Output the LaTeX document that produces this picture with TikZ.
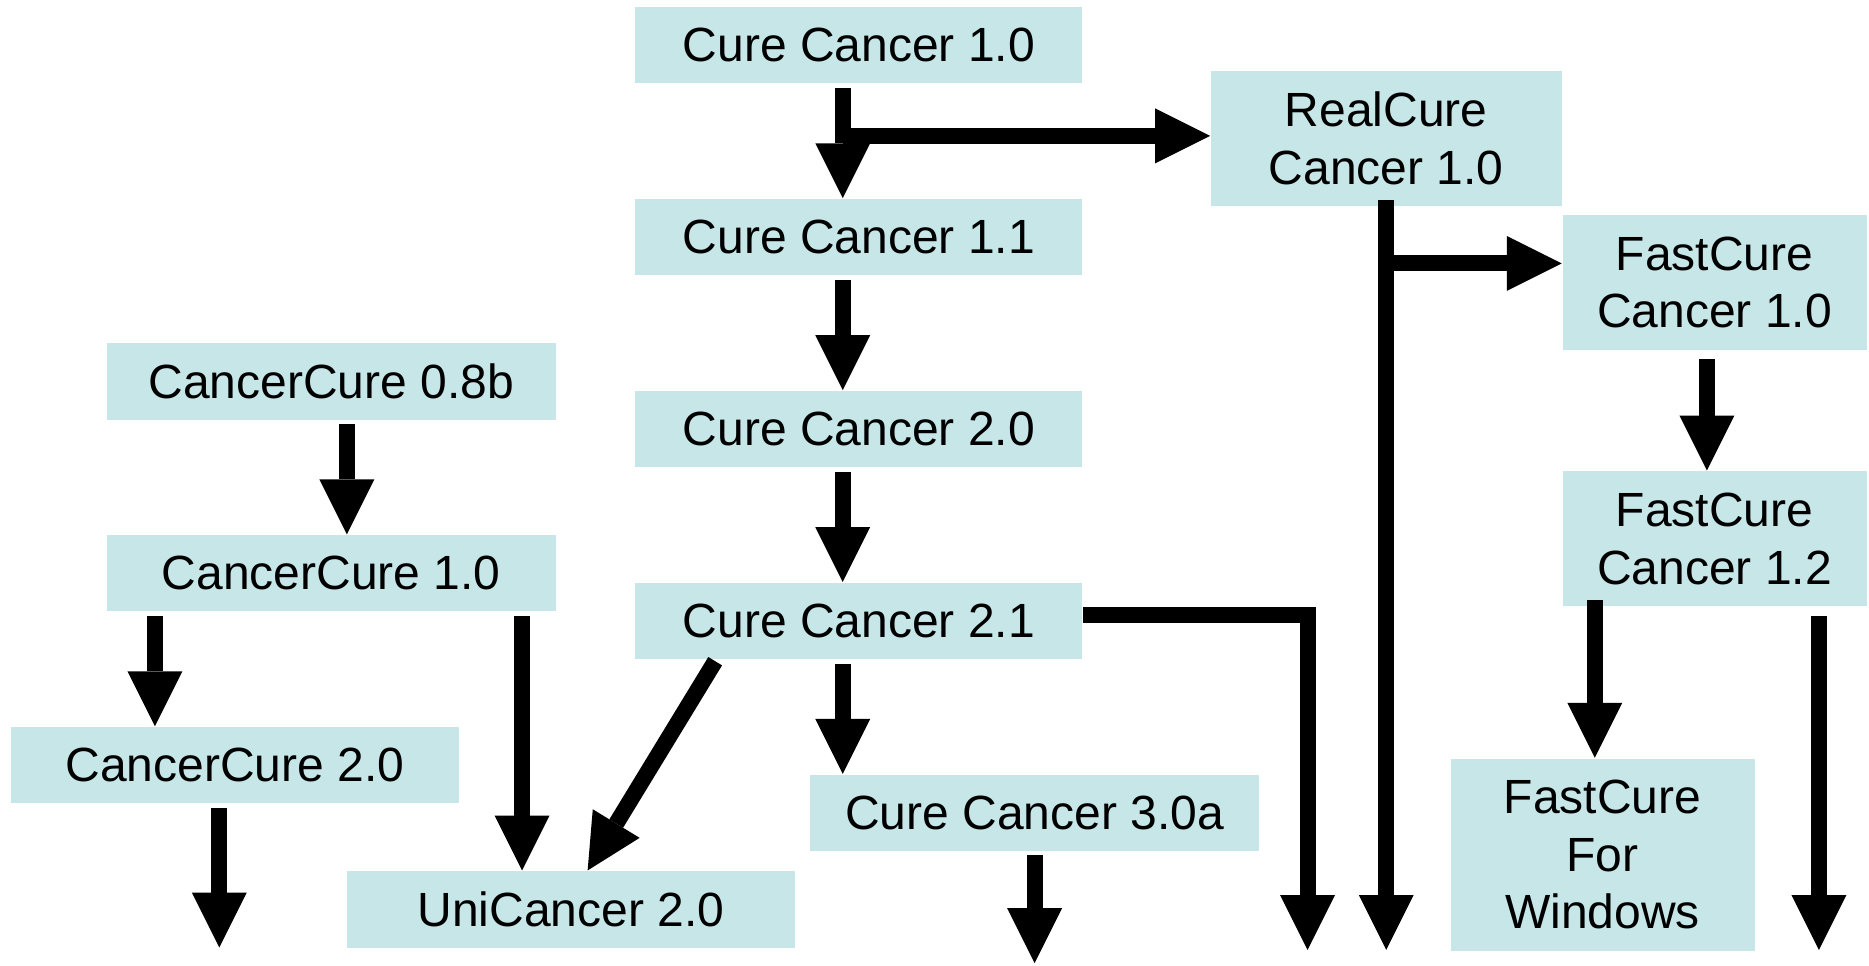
\documentclass[tikz,border=0pt]{standalone}
\usepackage{fontspec}
\setmainfont{Liberation Sans}
\usepackage{tikz}
\usetikzlibrary{arrows.meta}
\usetikzlibrary{calc}
\definecolor{boxblue}{RGB}{198,230,232}
\tikzstyle{release}=[rectangle,fill=boxblue,inner sep=0pt,align=center,font=\fontsize{11.45}{13.8}\selectfont]
\tikzstyle{edge} = [draw,line width=3.84pt,-{Triangle[length=13.1pt,width=13.1pt,line width=0pt]}]

\begin{document}
\begin{tikzpicture}[x=0.01cm,y=-0.01cm]
    \useasboundingbox (0,0) rectangle (1568,810);
    % First we draw the releases
    \foreach \pos/\name/\w/\h/\label in {{(720.5,38)/cc10/3.75/0.64/Cure Cancer 1.0}, {(720.5,199)/cc11/3.75/0.64/Cure Cancer 1.1}, {(720.5,360)/cc20/3.75/0.64/Cure Cancer 2.0}, {(720.5,521)/cc21/3.75/0.64/Cure Cancer 2.1}, {(868,682)/cc30a/3.76/0.64/Cure Cancer 3.0a}, {(278,320)/ccu08/3.76/0.64/CancerCure 0.8b}, {(278,481)/ccu10/3.76/0.64/CancerCure 1.0}, {(197,642)/ccu20/3.76/0.64/CancerCure 2.0}, {(479,763)/uni20/3.76/0.64/UniCancer 2.0}, {(1163,116)/realcure/2.94/1.13/RealCure\\Cancer 1.0}, {(1438.5,237)/fc10/2.55/1.13/FastCure\\Cancer 1.0}, {(1438.5,452)/fc12/2.55/1.13/FastCure\\Cancer 1.2}, {(1344.5,717)/fcw/2.55/1.61/FastCure\\For\\Windows}}
        \node[release,minimum width=\w cm,minimum height=\h cm] (\name) at \pos {\label};

    % loose ends at the bottom
    \coordinate (ccu20out) at (184,795);
    \coordinate (cc30aout) at (868,808);
    \coordinate (cc21out) at (1097,797);
    \coordinate (realout) at (1163,797);
    \coordinate (fc12out) at (1526,797);

    % Connect releases with arrows
    \foreach \source/\sx/\sy/\dest/\dx in {cc10/-13.5/3/cc11/-13.5, cc11/-13.5/3/cc20/-13.5, cc20/-13.5/3/cc21/-13.5, cc21/-13.5/3/cc30a/-161, cc21/-120.5/1/uni20/14, ccu08/13/3/ccu10/13, ccu10/-148/3/ccu20/-67, ccu10/160/3/uni20/-41, fc10/-6.5/7/fc12/-6.5, fc12/-100.5/-5.5/fcw/-6.5}
        \path[edge] ($(\source.south)+(\sx,\sy)$) -- ($(\dest.north)+(\dx,0)$);

    \foreach \source/\sx/\sy/\dest in {ccu20/-13/3/ccu20out, cc30a/0/3/cc30aout, realcure/0/-5.5/realout, fc12/87.5/7.5/fc12out}
        \path[edge] ($(\source.south)+(\sx,\sy)$) -- (\dest);

    % side branches
    \path[edge] ($(cc10.south |- realcure.west)+(-13.5,-2)$) -- ($(realcure.west)+(0,-2)$);
    \path[edge] ($(realcure.south |- fc10.west)+(0,-16)$) -- ($(fc10.west)+(0,-16)$);
    \path[edge] ($(cc21.east)+(0,-5)$) -| (cc21out);
\end{tikzpicture}
\end{document}
